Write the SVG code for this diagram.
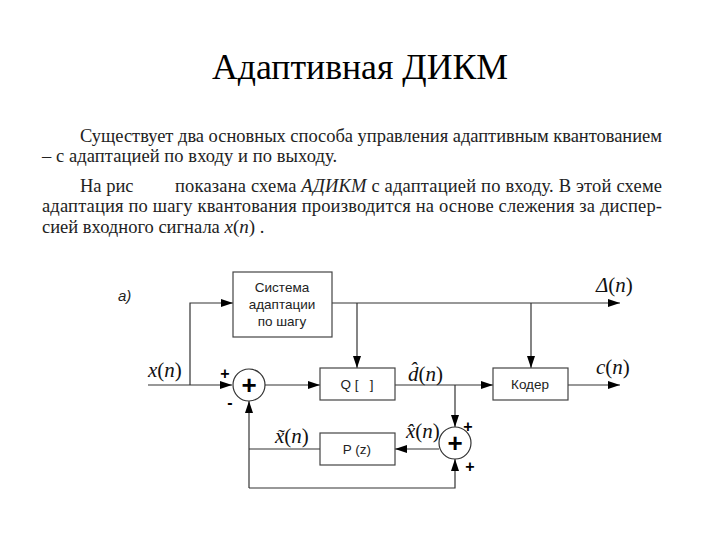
<svg xmlns="http://www.w3.org/2000/svg" width="720" height="540" viewBox="0 0 720 540">
<defs>
<marker id="ah" viewBox="0 0 12 8" refX="12" refY="4" markerWidth="12" markerHeight="8" markerUnits="userSpaceOnUse" orient="auto">
<path d="M0,0 L12,4 L0,8 z" fill="#000"/>
</marker>
<style>
.ln{fill:none;stroke:#333;stroke-width:1.2}
.arr{fill:none;stroke:#333;stroke-width:1.2;marker-end:url(#ah)}
.box{fill:#fff;stroke:#444;stroke-width:1.2}
.sum{fill:#fff;stroke:#333;stroke-width:1.2}
.bt{font-family:'Liberation Sans',Arial,sans-serif;font-size:13.5px;fill:#222;text-anchor:middle}
.pl{font-family:'Liberation Sans',Arial,sans-serif;font-size:26px;font-weight:bold;fill:#000;text-anchor:middle}
.sg{font-family:'Liberation Sans',Arial,sans-serif;font-size:16px;font-weight:bold;fill:#000;text-anchor:middle}
.m{font-family:'Liberation Serif','Times New Roman',serif;font-size:21px;fill:#111}
.i{font-style:italic}
.p{font-family:'Liberation Serif','Times New Roman',serif;font-size:18.5px;fill:#222}
.t{font-family:'Liberation Serif','Times New Roman',serif;font-size:35px;fill:#000;text-anchor:middle}
</style>
</defs>
<rect width="720" height="540" fill="#fff"/>
<text class="t" x="360" y="79" textLength="296" lengthAdjust="spacingAndGlyphs">Адаптивная ДИКМ</text>
<g id="paragraph">
<text class="p" x="80" y="142" textLength="582" lengthAdjust="spacing">Существует два основных способа управления адаптивным квантованием</text>
<text class="p" x="42" y="162" textLength="295" lengthAdjust="spacing">– с адаптацией по входу и по выходу.</text>
<text class="p" x="80" y="192">На рис</text>
<text class="p" x="175" y="192" textLength="487" lengthAdjust="spacing">показана схема <tspan font-style="italic">АДИКМ</tspan> с адаптацией по входу. В этой схеме</text>
<text class="p" x="42" y="212" textLength="620" lengthAdjust="spacing">адаптация по шагу квантования производится на основе слежения за диспер-</text>
<text class="p" x="42" y="233">сией входного сигнала <tspan class="i" font-size="19">x</tspan><tspan font-size="19">(</tspan><tspan class="i" font-size="19">n</tspan><tspan font-size="19">)</tspan> .</text>
</g>
<text id="label-a" x="118" y="301" font-family="Liberation Sans, Arial, sans-serif" font-size="15" font-style="italic" fill="#222">а)</text>
<g id="connectors">
<path class="ln" d="M148,385 H190"/>
<path class="arr" d="M190,385 V303 H233"/>
<path class="arr" d="M190,385 H232"/>
<path class="arr" d="M332,303 H620"/>
<path class="arr" d="M357,303 V368"/>
<path class="arr" d="M531,303 V368"/>
<path class="arr" d="M265,385 H320"/>
<path class="arr" d="M395,385 H493"/>
<path class="arr" d="M568,385 H620"/>
<path class="arr" d="M455,385 V427"/>
<path class="arr" d="M439,449 H395"/>
<path class="ln" d="M320,449 H249"/>
<path class="arr" d="M249,488 V401"/>
<path class="arr" d="M249,488 H455 V459"/>
</g>
<g id="adapt">
<rect class="box" x="233" y="272" width="99" height="65"/>
<text class="bt" x="282" y="292">Система</text>
<text class="bt" x="282" y="309">адаптации</text>
<text class="bt" x="282" y="326">по шагу</text>
</g>
<g id="sum1">
<circle class="sum" cx="249" cy="385" r="16"/>
<text class="pl" x="249" y="394">+</text>
<text class="sg" x="225" y="379">+</text>
<text class="sg" x="230" y="408">-</text>
</g>
<g id="quant">
<rect class="box" x="320" y="368" width="75" height="32"/>
<text class="bt" x="357" y="389">Q [ &#160; ]</text>
</g>
<g id="coder">
<rect class="box" x="493" y="368" width="75" height="32"/>
<text class="bt" x="530" y="389">Кодер</text>
</g>
<g id="predictor">
<rect class="box" x="320" y="433" width="75" height="32"/>
<text class="bt" x="357" y="454">P (z)</text>
</g>
<g id="sum2">
<circle class="sum" cx="455" cy="443" r="16"/>
<text class="pl" x="455" y="452">+</text>
<text class="sg" x="468" y="432">+</text>
<text class="sg" x="470" y="472">+</text>
</g>
<g id="labels">
<text class="m" x="148" y="377"><tspan class="i">x</tspan>(<tspan class="i">n</tspan>)</text>
<text class="m" x="596" y="292"><tspan class="i">Δ</tspan>(<tspan class="i">n</tspan>)</text>
<text class="m" x="596" y="374"><tspan class="i">c</tspan>(<tspan class="i">n</tspan>)</text>
<text class="m" x="408" y="381"><tspan class="i">d̂</tspan>(<tspan class="i">n</tspan>)</text>
<text class="m" x="275" y="443"><tspan class="i">x̃</tspan>(<tspan class="i">n</tspan>)</text>
<text class="m" x="406" y="438"><tspan class="i">x̂</tspan>(<tspan class="i">n</tspan>)</text>
</g>
</svg>
